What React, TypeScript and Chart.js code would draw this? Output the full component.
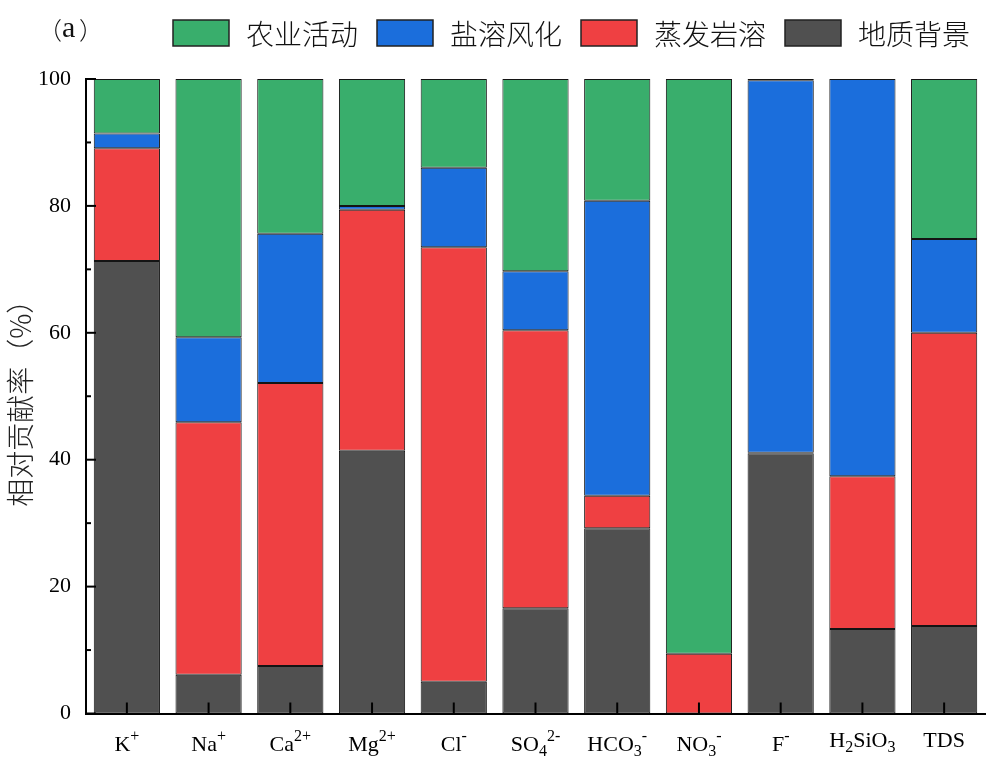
import { useEffect, useRef } from "react";
import { Chart, registerables } from "chart.js";

Chart.register(...registerables);

// Category labels: "_x" = subscript char, "^xx" = superscript
const categories = ["K^+", "Na^+", "Ca^2+", "Mg^2+", "Cl^-", "SO_4^2-", "HCO_3^-", "NO_3^-", "F^-", "H_2SiO_3", "TDS"];

const seriesNames = ["地质背景", "蒸发岩溶", "盐溶风化", "农业活动"];
const geology = [71.3, 6.1, 7.5, 41.4, 5.0, 16.6, 29.2, 0, 41.0, 13.3, 13.8];
const evaporite = [17.8, 39.8, 44.6, 38.0, 68.5, 43.8, 5.1, 9.4, 0.1, 24.1, 46.2];
const weathering = [2.3, 13.4, 23.5, 0.6, 12.5, 9.3, 46.5, 0, 58.7, 62.6, 14.8];
const agriculture = [8.6, 40.7, 24.4, 20.0, 14.0, 30.3, 19.2, 90.6, 0.2, 0, 25.2];

const yTicks = [0, 20, 40, 60, 80, 100];
const yMinorTicks = [10, 30, 50, 70, 90];

const colors = ["#505050", "#ef4042", "#1b6edc", "#39ae6c"];

const SERIF = "'Liberation Serif', 'Times New Roman', serif";
const CJK = "'Noto Sans CJK SC', 'Noto Sans', sans-serif";

type Seg = { t: string; k: "n" | "sub" | "sup" };
function parseLabel(s: string): Seg[] {
  const out: Seg[] = [];
  const re = /_(\d)|\^([0-9+\-]+)|([^_^]+)/g;
  let m: RegExpExecArray | null;
  while ((m = re.exec(s))) {
    if (m[1] !== undefined) out.push({ t: m[1], k: "sub" });
    else if (m[2] !== undefined) out.push({ t: m[2], k: "sup" });
    else out.push({ t: m[3], k: "n" });
  }
  return out;
}

const decorPlugin = {
  id: "decor",
  afterDatasetsDraw(chart: any) {
    const ctx: CanvasRenderingContext2D = chart.ctx;
    const xs = chart.scales.x;
    const ys = chart.scales.y;
    const area = chart.chartArea;
    ctx.save();
    ctx.strokeStyle = "#000";
    ctx.lineWidth = 2;
    // inward y ticks
    for (const v of yTicks) {
      const py = ys.getPixelForValue(v);
      ctx.beginPath();
      ctx.moveTo(area.left, py);
      ctx.lineTo(area.left + 10, py);
      ctx.stroke();
    }
    for (const v of yMinorTicks) {
      const py = ys.getPixelForValue(v);
      ctx.beginPath();
      ctx.moveTo(area.left, py);
      ctx.lineTo(area.left + 5, py);
      ctx.stroke();
    }
    // inward x ticks
    categories.forEach((_, i) => {
      const px = xs.getPixelForValue(i);
      ctx.beginPath();
      ctx.moveTo(px, area.bottom);
      ctx.lineTo(px, area.bottom - 11);
      ctx.stroke();
    });

    // x labels with sub/superscripts
    ctx.fillStyle = "#000";
    ctx.textBaseline = "alphabetic";
    ctx.textAlign = "left";
    categories.forEach((lab, i) => {
      const segs = parseLabel(lab);
      const hasSup = segs.some((s) => s.k === "sup");
      const base = area.bottom + (hasSup ? 37 : 33);
      const fontFor = (k: string) => (k === "n" ? `22px ${SERIF}` : `16px ${SERIF}`);
      let w = 0;
      for (const s of segs) {
        ctx.font = fontFor(s.k);
        w += ctx.measureText(s.t).width;
      }
      let cx = xs.getPixelForValue(i) - w / 2;
      for (const s of segs) {
        ctx.font = fontFor(s.k);
        const dy = s.k === "sup" ? -10 : s.k === "sub" ? 5 : 0;
        ctx.fillText(s.t, cx, base + dy);
        cx += ctx.measureText(s.t).width;
      }
    });

    // legend (reverse dataset order)
    const dsets = chart.data.datasets.slice().reverse();
    let lx = 173;
    const boxW = 56, boxH = 26, boxTop = 20;
    ctx.font = `300 28px ${CJK}`;
    ctx.textBaseline = "middle";
    for (const d of dsets) {
      ctx.fillStyle = d.backgroundColor;
      ctx.fillRect(lx, boxTop, boxW, boxH);
      ctx.lineWidth = 1.5;
      ctx.strokeStyle = "#222";
      ctx.strokeRect(lx, boxTop, boxW, boxH);
      ctx.fillStyle = "#111";
      const tx = lx + boxW + 17;
      ctx.fillText(d.label, tx, boxTop + boxH / 2 + 1);
      lx = tx + ctx.measureText(d.label).width + 19;
    }

    // panel tag "（a）"
    ctx.fillStyle = "#111";
    ctx.textBaseline = "middle";
    ctx.font = `300 24px ${CJK}`;
    ctx.fillText("（", 38, 30);
    ctx.fillText("）", 79, 30);
    ctx.textBaseline = "alphabetic";
    ctx.font = `30px ${SERIF}`;
    ctx.fillText("a", 62, 37);
    ctx.restore();
  },
};

export default function App() {
  const ref = useRef<HTMLCanvasElement | null>(null);
  useEffect(() => {
    document.body.style.margin = "0";
    if (!ref.current) return;
    const series = [geology, evaporite, weathering, agriculture];
    const chart = new Chart(ref.current, {
      type: "bar",
      data: {
        labels: categories,
        datasets: series.map((data, i) => ({
          label: seriesNames[i],
          data,
          backgroundColor: colors[i],
          borderColor: "#141414",
          borderWidth: 1,
          borderSkipped: false,
          barPercentage: 0.81,
          categoryPercentage: 1,
        })),
      },
      options: {
        animation: false,
        responsive: true,
        maintainAspectRatio: false,
        layout: { padding: { top: 79, right: 13, left: 0, bottom: 0 } },
        plugins: { legend: { display: false }, tooltip: { enabled: false } },
        scales: {
          x: {
            stacked: true,
            grid: { display: false, drawTicks: false },
            border: { display: true, color: "#000", width: 2 },
            ticks: { display: false },
            afterFit: (s: any) => {
              s.height = 49.5;
            },
          },
          y: {
            stacked: true,
            min: 0,
            max: 100,
            grid: { display: false, drawTicks: false },
            border: { display: true, color: "#000", width: 2 },
            ticks: {
              stepSize: 20,
              padding: 15,
              color: "#000",
              font: { family: SERIF, size: 22 },
            },
            title: {
              display: true,
              text: "相对贡献率（%）",
              color: "#222",
              font: { family: CJK, size: 28, weight: "300" as any },
              padding: { top: 4, bottom: 0 },
            },
            afterFit: (s: any) => {
              s.width = 86;
            },
          },
        },
      },
      plugins: [decorPlugin],
    });
    return () => chart.destroy();
  }, []);
  return (
    <div style={{ width: 998, height: 763, position: "relative" }}>
      <canvas ref={ref} />
    </div>
  );
}
